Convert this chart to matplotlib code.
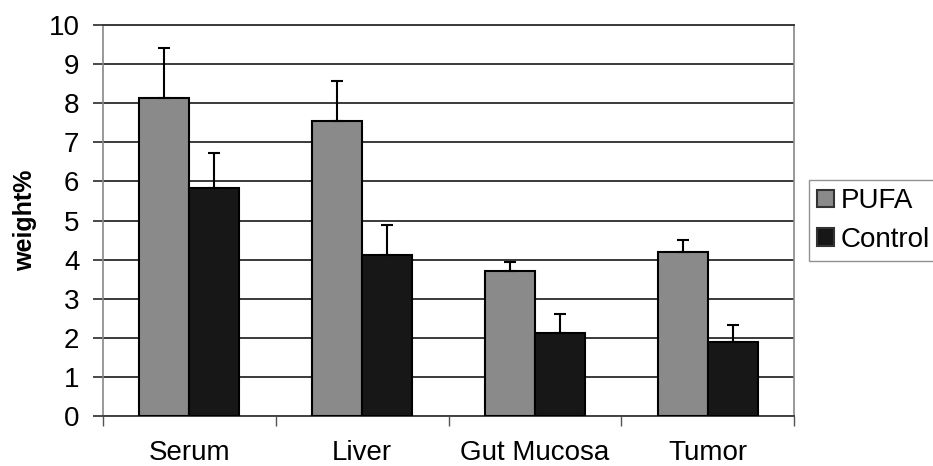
import matplotlib
matplotlib.use("Agg")
import matplotlib.pyplot as plt
import numpy as np
from matplotlib.ticker import FixedLocator, NullFormatter

categories = ["Serum", "Liver", "Gut Mucosa", "Tumor"]
pufa = [8.14, 7.54, 3.70, 4.20]
pufa_err = [1.26, 1.04, 0.23, 0.30]
control = [5.82, 4.12, 2.11, 1.88]
control_err = [0.90, 0.76, 0.49, 0.44]
series_names = ["PUFA", "Control"]
yticks = list(range(0, 11))

plt.rcParams['font.family'] = ['Liberation Sans', 'DejaVu Sans']

fig = plt.figure(figsize=(9.33, 4.66), dpi=100)
ax = fig.add_axes([103/933, 50/466, (794-103)/933, (416-25)/466])

x = np.arange(len(categories))
w = 0.29
ekw = dict(ecolor='black', elinewidth=1.5, capsize=4.5, capthick=1.5)
b1 = ax.bar(x - w/2, pufa, w, color='#8a8a8a', edgecolor='black', linewidth=1.5,
            yerr=[np.zeros(len(pufa)), pufa_err], error_kw=ekw, label=series_names[0], zorder=3)
b2 = ax.bar(x + w/2, control, w, color='#171717', edgecolor='black', linewidth=1.5,
            yerr=[np.zeros(len(control)), control_err], error_kw=ekw, label=series_names[1], zorder=3)

ax.set_xlim(-0.5, len(categories) - 0.5)
ax.set_ylim(0, 10)
ax.set_yticks(yticks)
ax.set_xticks(x)
ax.set_xticklabels(categories)
ax.xaxis.set_minor_locator(FixedLocator(np.arange(-0.5, len(categories), 1.0)))
ax.xaxis.set_minor_formatter(NullFormatter())
ax.tick_params(axis='x', which='major', length=0, pad=17, labelsize=20)
ax.tick_params(axis='x', which='minor', length=7, width=1, color='#555555', direction='out')
ax.tick_params(axis='y', length=7, width=1.3, color='#3a3a3a', pad=10, labelsize=20)

ax.yaxis.grid(True, color='#3a3a3a', linewidth=1.4, zorder=0)
ax.set_axisbelow(True)
for s in ['left', 'right']:
    ax.spines[s].set_color('#888888')
    ax.spines[s].set_linewidth(1.2)
ax.spines['top'].set_color('#3a3a3a')
ax.spines['top'].set_linewidth(1.4)
ax.spines['bottom'].set_color('#444444')
ax.spines['bottom'].set_linewidth(1.4)

ax.set_ylabel("weight%", fontsize=18, fontweight='bold', labelpad=8)

leg = fig.legend(handles=[b1, b2], labels=series_names, loc='upper left',
                 bbox_to_anchor=(809/933, 1 - 180/466), fontsize=20,
                 handlelength=0.6, handleheight=0.6, handletextpad=0.25,
                 borderpad=0.3, labelspacing=0.45, borderaxespad=0.0,
                 frameon=True, fancybox=False)
leg.get_frame().set_edgecolor('#777777')
leg.get_frame().set_linewidth(1.0)
for h in leg.legend_handles:
    h.set_edgecolor('#333333')

fig.savefig("out.png", dpi=100)
